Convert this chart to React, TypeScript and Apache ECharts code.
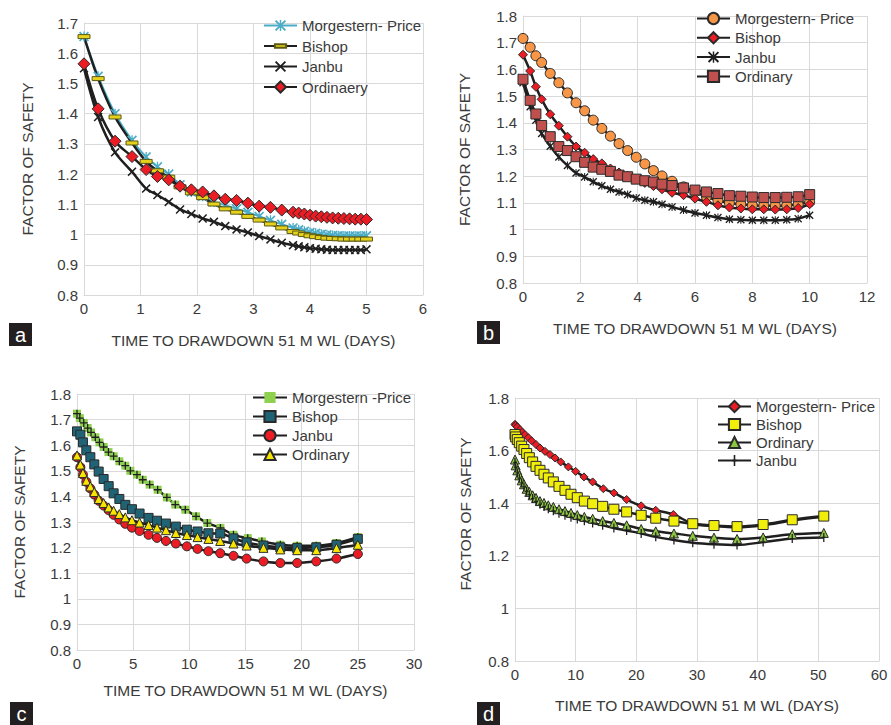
import React, { useEffect, useRef } from 'react';
import * as echarts from 'echarts';

// ---------- Panel a ----------
const xA = [0, 0.25, 0.55, 0.85, 1.1, 1.3, 1.5, 1.7, 1.9, 2.1, 2.3, 2.5, 2.7, 2.9, 3.1, 3.3, 3.5, 3.7, 3.8, 3.9, 4.0, 4.1, 4.2, 4.3, 4.4, 4.5, 4.6, 4.7, 4.8, 4.9, 5.0];
const aMP = [1.655, 1.524, 1.4, 1.312, 1.257, 1.224, 1.2, 1.165, 1.141, 1.127, 1.108, 1.097, 1.085, 1.074, 1.06, 1.047, 1.034, 1.022, 1.016, 1.011, 1.007, 1.004, 1.001, 0.999, 0.997, 0.996, 0.995, 0.995, 0.995, 0.995, 0.996];
const aBishop = [1.655, 1.516, 1.389, 1.303, 1.242, 1.211, 1.19, 1.158, 1.138, 1.122, 1.101, 1.085, 1.074, 1.06, 1.048, 1.035, 1.022, 1.01, 1.005, 1.0, 0.996, 0.993, 0.99, 0.988, 0.987, 0.986, 0.985, 0.985, 0.985, 0.985, 0.985];
const aJanbu = [1.55, 1.389, 1.272, 1.208, 1.152, 1.131, 1.108, 1.083, 1.068, 1.053, 1.042, 1.028, 1.017, 1.007, 0.995, 0.984, 0.973, 0.965, 0.961, 0.958, 0.955, 0.953, 0.951, 0.95, 0.949, 0.949, 0.949, 0.949, 0.949, 0.949, 0.951];
const aOrdinary = [1.565, 1.416, 1.309, 1.258, 1.215, 1.192, 1.181, 1.16, 1.148, 1.141, 1.128, 1.117, 1.113, 1.104, 1.094, 1.09, 1.081, 1.074, 1.071, 1.068, 1.064, 1.061, 1.059, 1.057, 1.055, 1.054, 1.053, 1.052, 1.051, 1.051, 1.05];

// ---------- Panel b ----------
const xB = [0, 0.25, 0.45, 0.65, 0.95, 1.25, 1.55, 1.85, 2.15, 2.45, 2.75, 3.05, 3.35, 3.65, 3.95, 4.25, 4.55, 4.85, 5.2, 5.6, 6.0, 6.4, 6.8, 7.2, 7.6, 8.0, 8.4, 8.8, 9.2, 9.6, 10.0];
const bMP = [1.716, 1.683, 1.651, 1.626, 1.585, 1.55, 1.512, 1.475, 1.445, 1.41, 1.379, 1.35, 1.322, 1.296, 1.271, 1.246, 1.221, 1.201, 1.181, 1.16, 1.141, 1.123, 1.11, 1.1, 1.095, 1.091, 1.089, 1.089, 1.09, 1.095, 1.104];
const bBishop = [1.655, 1.594, 1.535, 1.488, 1.432, 1.389, 1.348, 1.311, 1.288, 1.264, 1.248, 1.229, 1.214, 1.201, 1.188, 1.175, 1.163, 1.151, 1.138, 1.129, 1.116, 1.104, 1.091, 1.083, 1.079, 1.076, 1.076, 1.075, 1.076, 1.081, 1.095];
const bJanbu = [1.55, 1.46, 1.41, 1.36, 1.312, 1.272, 1.24, 1.212, 1.197, 1.179, 1.164, 1.151, 1.141, 1.131, 1.118, 1.11, 1.104, 1.095, 1.085, 1.073, 1.062, 1.054, 1.045, 1.039, 1.037, 1.035, 1.035, 1.035, 1.037, 1.041, 1.054];
const bOrdinary = [1.563, 1.484, 1.433, 1.39, 1.348, 1.311, 1.296, 1.273, 1.252, 1.234, 1.226, 1.218, 1.204, 1.198, 1.189, 1.183, 1.178, 1.17, 1.165, 1.156, 1.148, 1.141, 1.135, 1.127, 1.125, 1.122, 1.12, 1.12, 1.121, 1.123, 1.131];

// ---------- Panel c ----------
const xCMP = [0, 0.25, 0.6, 0.95, 1.25, 1.63, 2.0, 2.37, 2.8, 3.26, 3.77, 4.3, 4.75, 5.34, 5.85, 6.47, 7.18, 8.0, 8.75, 9.64, 10.6, 11.6, 12.77, 13.93, 15.2, 16.46, 18.1, 19.6, 21.3, 23.1, 25];
const cMP = [1.723, 1.706, 1.687, 1.667, 1.65, 1.631, 1.611, 1.593, 1.573, 1.557, 1.537, 1.52, 1.5, 1.485, 1.465, 1.446, 1.426, 1.396, 1.368, 1.348, 1.322, 1.296, 1.277, 1.25, 1.237, 1.224, 1.211, 1.207, 1.207, 1.218, 1.241];
const xC = [0, 0.3, 0.53, 0.83, 1.19, 1.54, 1.93, 2.37, 2.82, 3.26, 3.77, 4.3, 4.89, 5.57, 6.37, 7.12, 7.92, 8.8, 9.78, 10.73, 11.7, 12.75, 13.93, 15.1, 16.6, 18.1, 19.6, 21.3, 23.1, 25];
const cBishop = [1.654, 1.641, 1.611, 1.58, 1.553, 1.525, 1.497, 1.468, 1.44, 1.412, 1.39, 1.367, 1.35, 1.333, 1.316, 1.305, 1.294, 1.282, 1.27, 1.263, 1.256, 1.255, 1.236, 1.22, 1.208, 1.201, 1.198, 1.201, 1.211, 1.234];
const cJanbu = [1.553, 1.514, 1.485, 1.457, 1.431, 1.407, 1.383, 1.364, 1.346, 1.328, 1.31, 1.293, 1.278, 1.265, 1.25, 1.238, 1.226, 1.216, 1.205, 1.195, 1.186, 1.178, 1.168, 1.157, 1.146, 1.14, 1.14, 1.146, 1.157, 1.175];
const cOrdinary = [1.56, 1.524, 1.491, 1.461, 1.439, 1.417, 1.39, 1.374, 1.357, 1.344, 1.331, 1.318, 1.307, 1.298, 1.288, 1.278, 1.268, 1.257, 1.249, 1.241, 1.234, 1.226, 1.216, 1.208, 1.199, 1.193, 1.19, 1.19, 1.198, 1.211];

// ---------- Panel d ----------
const xDMP = [0, 0.11, 0.38, 0.82, 1.2, 1.65, 2.2, 2.75, 3.46, 4.12, 4.95, 5.77, 6.6, 7.53, 8.8, 10, 11.37, 12.8, 14.56, 16.3, 18.4, 20.8, 23.2, 26.1, 29.3, 32.8, 36.6, 40.9, 45.7, 50.9];
const dMP = [1.7, 1.696, 1.69, 1.68, 1.67, 1.661, 1.649, 1.637, 1.623, 1.61, 1.597, 1.585, 1.572, 1.557, 1.538, 1.521, 1.5, 1.481, 1.455, 1.439, 1.414, 1.39, 1.373, 1.357, 1.322, 1.313, 1.308, 1.316, 1.334, 1.348];
const xD = [0, 0.11, 0.38, 0.71, 1.1, 1.48, 1.92, 2.36, 2.91, 3.46, 4.12, 4.78, 5.49, 6.32, 7.25, 8.24, 9.23, 10.27, 11.43, 12.8, 14.45, 16.3, 18.4, 20.8, 23.2, 26.2, 29.3, 32.8, 36.6, 40.9, 45.7, 50.9];
const dBishop = [1.661, 1.652, 1.642, 1.63, 1.617, 1.604, 1.589, 1.573, 1.557, 1.54, 1.525, 1.51, 1.496, 1.481, 1.464, 1.449, 1.434, 1.421, 1.408, 1.398, 1.388, 1.377, 1.367, 1.354, 1.343, 1.332, 1.322, 1.315, 1.311, 1.319, 1.337, 1.351];
const dOrdinary = [1.566, 1.544, 1.525, 1.506, 1.487, 1.472, 1.455, 1.443, 1.43, 1.42, 1.408, 1.401, 1.392, 1.386, 1.377, 1.37, 1.363, 1.355, 1.348, 1.341, 1.332, 1.325, 1.316, 1.302, 1.293, 1.285, 1.276, 1.269, 1.264, 1.27, 1.282, 1.287];
const dJanbu = [1.555, 1.535, 1.515, 1.495, 1.477, 1.462, 1.445, 1.432, 1.418, 1.407, 1.396, 1.387, 1.379, 1.371, 1.362, 1.354, 1.347, 1.34, 1.333, 1.325, 1.316, 1.306, 1.296, 1.285, 1.272, 1.26, 1.25, 1.244, 1.241, 1.252, 1.266, 1.27];

const X_TITLE = 'TIME TO DRAWDOWN 51 M WL (DAYS)';
const Y_TITLE = 'FACTOR OF SAFETY';
const PANEL_LABELS = ['a', 'b', 'c', 'd'];
const NAMES_A = ['Morgestern- Price', 'Bishop', 'Janbu', 'Ordinaery'];
const NAMES_B = ['Morgestern- Price', 'Bishop', 'Janbu', 'Ordinary'];
const NAMES_C = ['Morgestern -Price', 'Bishop', 'Janbu', 'Ordinary'];
const NAMES_D = ['Morgestern- Price', 'Bishop', 'Ordinary', 'Janbu'];

const FONT = '"Liberation Sans", Arial, Helvetica, sans-serif';
const TXT = '#3a3a3a';
const GRIDC = '#d9d9d9';
const LINEC = '#1f1f1f';
const BORDER = '#2a2a2a';

const SYM_X = 'path://M0,1.2L1.2,0L5,3.8L8.8,0L10,1.2L6.2,5L10,8.8L8.8,10L5,6.2L1.2,10L0,8.8L3.8,5Z';
const SYM_AST = 'path://M0,1.2L1.2,0L5,3.8L8.8,0L10,1.2L6.2,5L10,8.8L8.8,10L5,6.2L1.2,10L0,8.8L3.8,5Z M4.35,0h1.3v10h-1.3z';
const SYM_PLUS = 'path://M4.2,0h1.6v10h-1.6z M0,4.2h10v1.6h-10z';
const SYM_TICK = 'path://M0,0L0,0 M10,0L10,0 M4.3,0h1.4v12h-1.4z M3,5.3h4v1.4h-4z';
const SYM_DASH = 'path://M0,0L0,0 M12,12L12,12 M0,4h12v4h-12z';

const pair = (xs: number[], ys: number[]) => xs.map((x, i) => [x, ys[i]]);
const key = (p: string, n: string) => p + '|' + n;

function line(p: string, name: string, gi: number, xs: number[], ys: number[], o: any) {
  return {
    type: 'line',
    name: key(p, name),
    xAxisIndex: gi,
    yAxisIndex: gi,
    data: pair(xs, ys),
    smooth: 0.3,
    symbol: o.symbol,
    symbolSize: o.size,
    showAllSymbol: true,
    lineStyle: { color: o.lineColor || LINEC, width: o.lineWidth || 2.5 },
    itemStyle: {
      color: o.fill,
      borderColor: o.border === undefined ? BORDER : o.border,
      borderWidth: o.borderWidth === undefined ? 1 : o.borderWidth,
    },
    emphasis: { disabled: true },
    z: 2,
  };
}

function xAxis(gi: number, max: number, interval: number, gap: number) {
  return {
    type: 'value',
    gridIndex: gi,
    min: 0,
    max,
    interval,
    name: X_TITLE,
    nameLocation: 'middle',
    nameGap: gap,
    nameTextStyle: { fontSize: 15.5, color: TXT, fontFamily: FONT },
    axisLine: { show: true, lineStyle: { color: GRIDC, width: 1 } },
    axisTick: { show: false },
    axisLabel: { fontSize: 15, color: TXT, fontFamily: FONT, margin: 6 },
    splitLine: { show: true, lineStyle: { color: GRIDC, width: 1 } },
  };
}

function yAxis(gi: number, max: number, interval: number, gap: number, showName: boolean) {
  return {
    type: 'value',
    gridIndex: gi,
    min: 0.8,
    max,
    interval,
    name: showName ? Y_TITLE : '',
    nameLocation: 'middle',
    nameGap: gap,
    nameTextStyle: { fontSize: 15.5, color: TXT, fontFamily: FONT },
    axisLine: { show: true, lineStyle: { color: GRIDC, width: 1 } },
    axisTick: { show: false },
    axisLabel: {
      fontSize: 15,
      color: TXT,
      fontFamily: FONT,
      margin: 6,
      formatter: (v: number) => String(parseFloat(v.toFixed(1))),
    },
    splitLine: { show: true, lineStyle: { color: GRIDC, width: 1 } },
  };
}

function legend(p: string, names: string[], left: number, top: number, gap: number, width: number) {
  return {
    data: names.map((n) => key(p, n)),
    formatter: (n: string) => n.split('|')[1],
    orient: 'vertical',
    left,
    top,
    itemGap: gap,
    itemWidth: width,
    itemHeight: 14,
    selectedMode: false,
    padding: 0,
    textStyle: { fontSize: 15, color: TXT, fontFamily: FONT },
  };
}

function labelBox(ch: string, x: number, y: number) {
  return [
    { type: 'rect', shape: { x, y, width: 23, height: 23 }, style: { fill: '#231f20' }, z: 10 },
    {
      type: 'text',
      x: x + 11.5,
      y: y + 11.5,
      z: 11,
      style: {
        text: ch,
        fill: '#ffffff',
        font: '20px ' + FONT,
        textAlign: 'center',
        textVerticalAlign: 'middle',
        align: 'center',
        verticalAlign: 'middle',
      },
    },
  ];
}

export default function App() {
  const ref = useRef<HTMLDivElement>(null);

  useEffect(() => {
    if (!ref.current) return;
    const chart = echarts.init(ref.current, undefined, { renderer: 'svg' });

    const option: any = {
      animation: false,
      backgroundColor: '#ffffff',
      textStyle: { fontFamily: FONT },
      grid: [
        { left: 84, top: 23, width: 339, height: 272, containLabel: false },
        { left: 523, top: 16, width: 344, height: 267, containLabel: false },
        { left: 77, top: 394, width: 337, height: 256, containLabel: false },
        { left: 515, top: 398, width: 364, height: 263, containLabel: false },
      ],
      xAxis: [xAxis(0, 6, 1, 37), xAxis(1, 12, 2, 37), xAxis(2, 30, 5, 32), xAxis(3, 60, 10, 36)],
      yAxis: [yAxis(0, 1.7, 0.1, 49, true), yAxis(1, 1.8, 0.1, 51, true), yAxis(2, 1.8, 0.1, 50, true), yAxis(3, 1.8, 0.2, 50, false)],
      legend: [
        legend('a', NAMES_A, 263, 18, 5.5, 33),
        legend('b', NAMES_B, 696, 11, 4.3, 33),
        legend('c', NAMES_C, 252, 390, 4, 34),
        legend('d', NAMES_D, 717, 399, 3, 33),
      ],
      series: [
        // a
        line('a', NAMES_A[0], 0, xA, aMP, { symbol: SYM_AST, size: 10, fill: '#4bacc6', border: 'transparent', borderWidth: 0, lineColor: '#4bacc6', lineWidth: 2 }),
        line('a', NAMES_A[1], 0, xA, aBishop, { symbol: SYM_DASH, size: 12, fill: '#e6d21c', border: '#5c5a14', borderWidth: 1 }),
        line('a', NAMES_A[2], 0, xA, aJanbu, { symbol: SYM_X, size: 9, fill: LINEC, border: 'transparent', borderWidth: 0 }),
        line('a', NAMES_A[3], 0, xA, aOrdinary, { symbol: 'diamond', size: 12, fill: '#ec1c24' }),
        // b
        line('b', NAMES_B[0], 1, xB, bMP, { symbol: 'circle', size: 10, fill: '#f79646' }),
        line('b', NAMES_B[1], 1, xB, bBishop, { symbol: 'diamond', size: 9, fill: '#ec1c24' }),
        line('b', NAMES_B[2], 1, xB, bJanbu, { symbol: SYM_AST, size: 8, fill: LINEC, border: 'transparent', borderWidth: 0 }),
        line('b', NAMES_B[3], 1, xB, bOrdinary, { symbol: 'rect', size: 10, fill: '#c0504d' }),
        // c
        line('c', NAMES_C[0], 2, xCMP, cMP, { symbol: 'rect', size: 8, fill: '#8fd14f', border: 'transparent', borderWidth: 0 }),
        {
          type: 'line',
          name: 'c|plus',
          xAxisIndex: 2,
          yAxisIndex: 2,
          data: pair(xCMP, cMP),
          symbol: SYM_PLUS,
          symbolSize: 8,
          showAllSymbol: true,
          lineStyle: { width: 0, opacity: 0 },
          itemStyle: { color: LINEC, borderWidth: 0 },
          emphasis: { disabled: true },
          z: 2,
        },
        line('c', NAMES_C[1], 2, xC, cBishop, { symbol: 'rect', size: 9, fill: '#1f6375' }),
        line('c', NAMES_C[2], 2, xC, cJanbu, { symbol: 'circle', size: 9, fill: '#ec1c24' }),
        line('c', NAMES_C[3], 2, xC, cOrdinary, { symbol: 'triangle', size: 9, fill: '#f7e400' }),
        // d
        line('d', NAMES_D[0], 3, xDMP, dMP, { symbol: 'diamond', size: 8, fill: '#ec1c24' }),
        line('d', NAMES_D[1], 3, xD, dBishop, { symbol: 'rect', size: 10, fill: '#f2ee0c' }),
        line('d', NAMES_D[2], 3, xD, dOrdinary, { symbol: 'triangle', size: 9, fill: '#8dc63f' }),
        line('d', NAMES_D[3], 3, xD, dJanbu, { symbol: SYM_TICK, size: 9, fill: LINEC, border: 'transparent', borderWidth: 0 }),
      ],
      graphic: [
        ...labelBox(PANEL_LABELS[0], 9, 323),
        ...labelBox(PANEL_LABELS[1], 477, 321),
        ...labelBox(PANEL_LABELS[2], 10, 702),
        ...labelBox(PANEL_LABELS[3], 477, 702),
        {
          type: 'text',
          x: 465,
          y: 514,
          rotation: Math.PI / 2,
          style: {
            text: Y_TITLE,
            fill: TXT,
            font: '15.5px ' + FONT,
            textAlign: 'center',
            textVerticalAlign: 'middle',
            align: 'center',
            verticalAlign: 'middle',
          },
        },
      ],
    };

    chart.setOption(option);
    return () => chart.dispose();
  }, []);

  return (
    <div
      ref={ref}
      style={{ position: 'absolute', left: 0, top: 0, width: 891, height: 725, background: '#ffffff' }}
    />
  );
}
